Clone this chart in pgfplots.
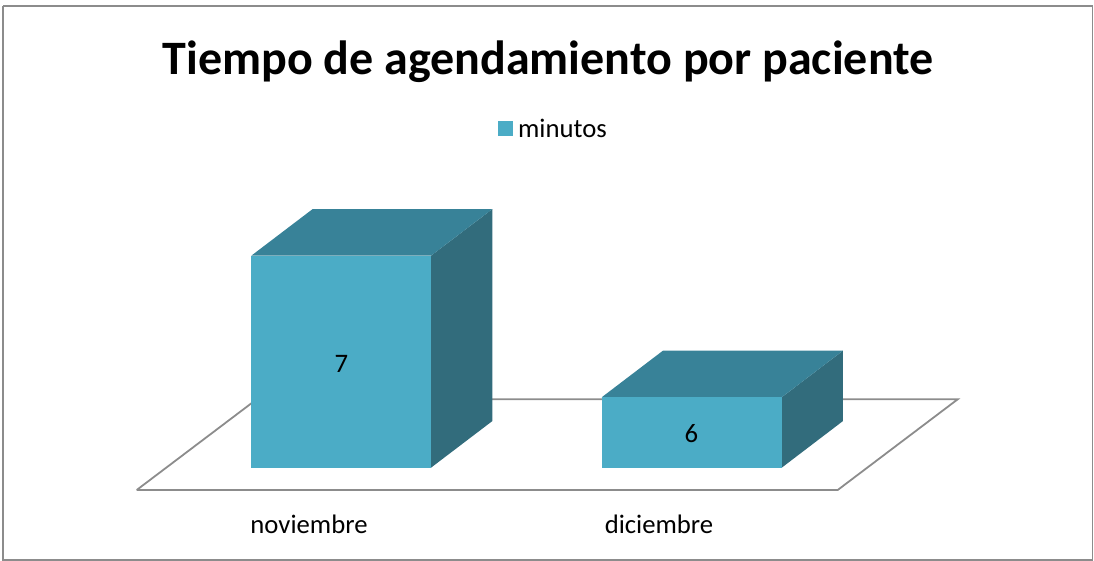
\documentclass[border=0pt]{standalone}
\usepackage{pgfplots}
\pgfplotsset{compat=1.18}
\usepackage{fontspec}
\setmainfont{Carlito}
\definecolor{front}{HTML}{4BACC6}
\definecolor{topf}{HTML}{388298}
\definecolor{side}{HTML}{326C7C}
\definecolor{frame}{HTML}{8C8C8C}
\begin{document}
\begin{tikzpicture}
\begin{axis}[
  scale only axis, width=1094pt, height=561pt,
  xmin=0, xmax=1094, ymin=4.8439, ymax=8.8058,
  axis line style={draw=none}, clip=false,
  ytick=\empty, xtick={309,659},
  xticklabels={noviembre,diciembre},
  tick style={draw=none},
  xticklabel style={anchor=base, yshift=27pt, font=\fontsize{26.7}{30}\selectfont},
  legend style={at={(axis cs:555,7.896)}, anchor=center, draw=none, fill=none,
    font=\fontsize{26.7}{30}\selectfont, inner sep=0pt, legend cell align=left,
    nodes={inner xsep=5.5pt}},
  legend image code/.code={\fill[front] (0pt,-7.5pt) rectangle (15pt,7.5pt);},
]
% chart frame
\addplot[forget plot, color=frame, line width=1.8pt] coordinates {(3,8.7634)(1092.5,8.7634)(1092.5,4.851)(3,4.851)(3,8.7634)};
% floor
\addplot[forget plot, color=frame, line width=1.8pt] coordinates {(136.7,5.3453)(837.7,5.3453)(957.7,5.9859)(256.7,5.9859)(136.7,5.3453)};
% noviembre = 7
\addplot[forget plot, fill=side, draw=none] coordinates {(431,5.5028)(492.3,5.832)(492.3,7.329)(431,7)};
\addplot[forget plot, fill=topf, draw=none] coordinates {(251.3,7)(431,7)(492.3,7.329)(312.6,7.329)};
\addplot[fill=front, draw=none] coordinates {(251.3,5.5028)(431,5.5028)(431,7)(251.3,7)};
\addlegendentry{minutos}
% diciembre = 6
\addplot[forget plot, fill=side, draw=none] coordinates {(781.7,5.5028)(842.9,5.832)(842.9,6.329)(781.7,6)};
\addplot[forget plot, fill=topf, draw=none] coordinates {(601.7,6)(781.7,6)(842.9,6.329)(662.9,6.329)};
\addplot[forget plot, fill=front, draw=none] coordinates {(601.7,5.5028)(781.7,5.5028)(781.7,6)(601.7,6)};
\node[anchor=base, font=\fontsize{26.7}{30}\selectfont] at (axis cs:341.5,6.174) {7};
\node[anchor=base, font=\fontsize{26.7}{30}\selectfont] at (axis cs:691.5,5.679) {6};
\node[anchor=base, font=\bfseries\fontsize{48}{54}\selectfont] at (axis cs:548,8.28) {Tiempo de agendamiento por paciente};
\end{axis}
\end{tikzpicture}
\end{document}
